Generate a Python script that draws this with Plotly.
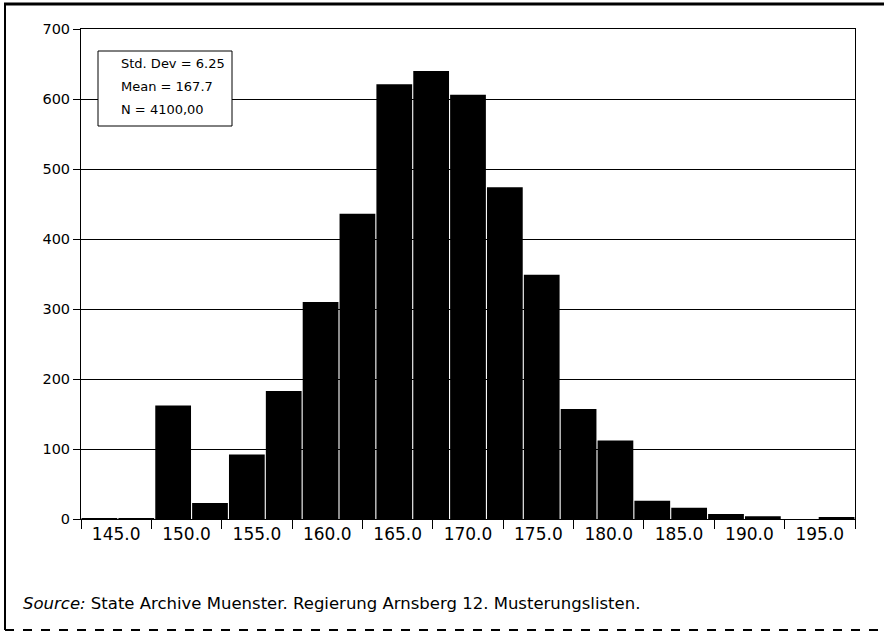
import plotly.graph_objects as go

# Histogram counts per bin (left to right)
counts = [1, 1, 162, 23, 92, 183, 310, 436, 621, 640, 606, 474, 349, 157, 112, 26, 16, 7, 4, 0, 3]
bin_ids = list(range(len(counts)))

# Axis tick labels
x_labels = ["145.0", "150.0", "155.0", "160.0", "165.0", "170.0",
            "175.0", "180.0", "185.0", "190.0", "195.0"]
y_ticks = [0, 100, 200, 300, 400, 500, 600, 700]

stats_lines = ["Std. Dev = 6.25", "Mean = 167.7", "N = 4100,00"]
source_rest = "State Archive Muenster. Regierung Arnsberg 12. Musterungslisten."

W, H = 884, 634
L, R, T, B = 81, 29, 29, 115
PW, PH = W - L - R, H - T - B


def px(x):
    return (x - L) / PW


def py(y):
    return (H - B - y) / PH


FONT = "DejaVu Sans"

fig = go.Figure()
fig.add_trace(go.Bar(x=bin_ids, y=counts, width=0.97,
                     marker=dict(color="black", line=dict(width=0)),
                     hoverinfo="skip", showlegend=False))
fig.add_trace(go.Scatter(x=x_labels, y=[0] * len(x_labels), xaxis="x2", yaxis="y",
                         mode="markers", marker=dict(opacity=0),
                         hoverinfo="skip", showlegend=False))

fig.update_layout(
    width=W, height=H,
    margin=dict(l=L, r=R, t=T, b=B),
    paper_bgcolor="white", plot_bgcolor="white",
    font=dict(family=FONT, color="black"),
    xaxis=dict(range=[-0.5, len(counts) - 0.5], showticklabels=False, ticks="",
               showgrid=False, zeroline=False, showline=False, fixedrange=True),
    xaxis2=dict(type="category", overlaying="x", anchor="y", side="bottom",
                categoryorder="array", categoryarray=x_labels,
                range=[-0.5, len(x_labels) - 0.5],
                tickson="boundaries", ticks="outside", ticklen=9, tickwidth=1,
                tickcolor="black", showgrid=False, zeroline=False,
                showline=True, linecolor="black", linewidth=1, mirror=True,
                tickfont=dict(family=FONT, size=17, color="black")),
    yaxis=dict(range=[0, 700], tickvals=y_ticks, ticks="outside", ticklen=7,
               tickcolor="black", showgrid=True, gridcolor="black", gridwidth=1,
               zeroline=False, showline=True, linecolor="black", linewidth=1,
               mirror=True, tickfont=dict(family=FONT, size=14.5, color="black")),
    bargap=0.03,
)

# Stats box
fig.add_shape(type="rect", xref="paper", yref="paper",
              x0=px(98), x1=px(232), y0=py(126), y1=py(51),
              line=dict(color="black", width=1), fillcolor="white", layer="above")
for i, line in enumerate(stats_lines):
    fig.add_annotation(xref="paper", yref="paper", x=px(119), y=py(63 + 23.5 * i),
                       xanchor="left", yanchor="middle", showarrow=False,
                       text=line, font=dict(family=FONT, size=13, color="black"))

# Source note
fig.add_annotation(xref="paper", yref="paper", x=px(21), y=py(603),
                   xanchor="left", yanchor="middle", showarrow=False,
                   text="<i>Source:</i> " + source_rest,
                   font=dict(family=FONT, size=16.5, color="black"))

# Outer frame (scanned page border)
fig.add_shape(type="line", xref="paper", yref="paper", x0=px(4), x1=px(884),
              y0=py(4), y1=py(4), line=dict(color="black", width=3))
fig.add_shape(type="line", xref="paper", yref="paper", x0=px(5), x1=px(5),
              y0=py(4), y1=py(630), line=dict(color="black", width=2))
fig.add_shape(type="line", xref="paper", yref="paper", x0=px(5), x1=px(884),
              y0=py(630), y1=py(630), line=dict(color="black", width=2, dash="dash"))

fig.write_html(
    "out.html",
    config={"displayModeBar": False},
    post_script="document.body.style.margin='0';document.body.style.overflow='hidden';",
)
